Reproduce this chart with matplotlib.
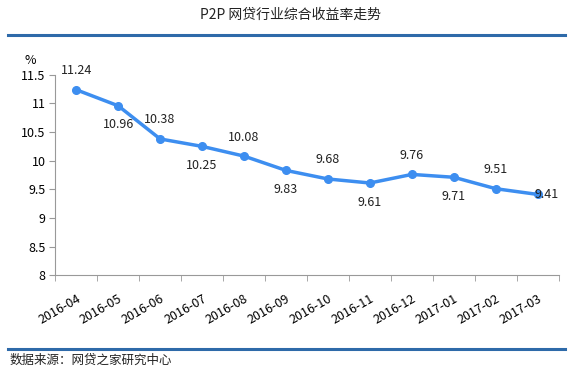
import matplotlib
matplotlib.use('Agg')
import matplotlib.pyplot as plt
from matplotlib.lines import Line2D

plt.rcParams['font.family'] = ['Noto Sans CJK SC', 'DejaVu Sans']

months = ['2016-04', '2016-05', '2016-06', '2016-07', '2016-08', '2016-09',
          '2016-10', '2016-11', '2016-12', '2017-01', '2017-02', '2017-03']
rates = [11.24, 10.96, 10.38, 10.25, 10.08, 9.83, 9.68, 9.61, 9.76, 9.71, 9.51, 9.41]
# label placement: 1 above, -1 below, 0 on the point
label_pos = [1, -1, 1, -1, 1, -1, 1, -1, 1, -1, 1, 0]

fig = plt.figure(figsize=(5.69, 3.80), dpi=100)
ax = fig.add_axes([0.097, 0.276, 0.885, 0.527])

x = list(range(len(months)))
ax.plot(x, rates, color='#3d8ef0', linewidth=2.5, marker='o', markersize=5.5)

for xi, v, p in zip(x, rates, label_pos):
    if p == 1:
        ax.annotate('%.2f' % v, (xi, v), xytext=(0, 9), textcoords='offset points',
                    ha='center', va='bottom', fontsize=9, color='#222222')
    elif p == -1:
        ax.annotate('%.2f' % v, (xi, v), xytext=(0, -9), textcoords='offset points',
                    ha='center', va='top', fontsize=9, color='#222222')
    else:
        ax.annotate('%.2f' % v, (xi, v), xytext=(-2, 0), textcoords='offset points',
                    ha='left', va='center', fontsize=9, color='#222222')

ax.set_xlim(-0.5, len(months) - 0.5)
ax.set_ylim(8, 11.5)
ax.set_yticks([8, 8.5, 9, 9.5, 10, 10.5, 11, 11.5])
ax.set_yticklabels(['8', '8.5', '9', '9.5', '10', '10.5', '11', '11.5'])
ax.set_xticks(x)
ax.set_xticklabels(months, rotation=30, ha='right', rotation_mode='anchor')
ax.set_xticks([i - 0.5 for i in range(len(months) + 1)], minor=True)
ax.tick_params(axis='x', which='major', length=0, pad=12, labelsize=9)
ax.tick_params(axis='x', which='minor', length=4, color='#999999')
ax.tick_params(axis='y', length=4, color='#999999', labelsize=9, pad=3)

for s in ['top', 'right']:
    ax.spines[s].set_visible(False)
ax.spines['left'].set_color('#999999')
ax.spines['bottom'].set_color('#999999')

ax.text(-0.06, 1.04, '%', transform=ax.transAxes, fontsize=9, ha='left', va='bottom')

fig.text(0.51, 0.962, 'P2P 网贷行业综合收益率走势', ha='center', va='center',
         fontsize=10, color='#222222')
fig.add_artist(Line2D([0.014, 0.993], [0.908, 0.908], color='#2e6aa9', linewidth=2.2))
fig.add_artist(Line2D([0.014, 0.993], [0.081, 0.081], color='#2e6aa9', linewidth=2.2))
fig.text(0.016, 0.052, '数据来源：网贷之家研究中心', ha='left', va='center',
         fontsize=9, color='#222222')

fig.savefig('out.png', dpi=100)
